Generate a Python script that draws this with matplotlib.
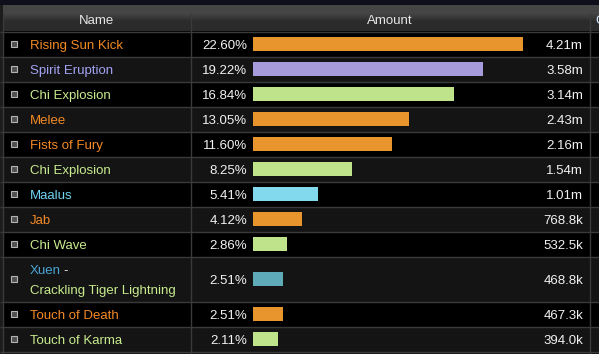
import numpy as np
import matplotlib.pyplot as plt
from matplotlib.patches import Rectangle

plt.rcParams['font.family'] = ['Liberation Sans', 'DejaVu Sans']

# data
names = ['Rising Sun Kick', 'Spirit Eruption', 'Chi Explosion', 'Melee', 'Fists of Fury',
         'Chi Explosion', 'Maalus', 'Jab', 'Chi Wave', 'Xuen -\nCrackling Tiger Lightning',
         'Touch of Death', 'Touch of Karma']
percents = [22.60, 19.22, 16.84, 13.05, 11.60, 8.25, 5.41, 4.12, 2.86, 2.51, 2.51, 2.11]
amounts_k = [4210, 3580, 3140, 2430, 2160, 1540, 1010, 768.8, 532.5, 468.8, 467.3, 394.0]
amount_labels = ['4.21m', '3.58m', '3.14m', '2.43m', '2.16m', '1.54m', '1.01m',
                 '768.8k', '532.5k', '468.8k', '467.3k', '394.0k']
kinds = ['orange', 'purple', 'green', 'orange', 'orange', 'green', 'blue', 'orange',
         'green', 'teal', 'orange', 'green']

bar_colors = {'orange': '#e8952e', 'purple': '#a89bdb', 'green': '#bfe38a',
              'blue': '#82d8ec', 'teal': '#5faab8'}
text_colors = {'orange': '#f48a24', 'purple': '#a3a3f5', 'green': '#c8ec8e',
               'blue': '#70d2f2', 'teal': '#4aa6d6'}

# layout (pixels)
W, H = 599, 354
top = 31.5
heights = [45 if '\n' in n else 25 for n in names]
edges = top + np.concatenate([[0], np.cumsum(heights)])
centers = (edges[:-1] + edges[1:]) / 2
bar_left = 253
px_per_k = 270 / 4210
fs = 9.5

fig = plt.figure(figsize=(W / 100, H / 100), dpi=100, facecolor='#000000')
ax = fig.add_axes([0, 0, 1, 1])
ax.set_xlim(0, W)
ax.set_ylim(H, 0)
ax.axis('off')

# top strip and header
ax.axhspan(0, 5, color='#0f0f1c', lw=0)
grad = np.concatenate([np.full(8, 0.27), np.linspace(0.27, 0.17, 9), np.full(9, 0.17)])
ax.imshow(np.tile(grad[:, None], (1, 10)), cmap='gray', vmin=0, vmax=1,
          extent=[0, W, 31, 5], aspect='auto', interpolation='nearest', zorder=0)
ax.text(96, 24, 'Name', color='#e6e6e6', fontsize=fs, ha='center', va='baseline')
ax.text(390, 24, 'Amount', color='#e6e6e6', fontsize=fs, ha='center', va='baseline')
ax.text(595, 24, 'C', color='#d8e8ff', fontsize=fs, ha='left', va='baseline', clip_on=True)

# row backgrounds
for i in range(len(names)):
    ax.axhspan(edges[i], edges[i + 1], color='#000000' if i % 2 == 0 else '#141414', lw=0, zorder=0.5)
ax.axhspan(edges[-1], H, color='#141414', lw=0, zorder=0.5)
ax.axvspan(0, 2.5, ymin=0, ymax=1 - 5 / H, color='#1c1c1c', lw=0, zorder=0.6)

# grid lines
ax.hlines(edges, 0, W, color='#3a3a3a', lw=1.0, zorder=1)
for x in [2.5, 190.5, 589.5]:
    ax.vlines(x, 13, H, color='#3a3a3a', lw=1.0, zorder=1)

# bars
widths = np.array(amounts_k) * px_per_k
ax.barh(centers, widths, left=bar_left, height=14,
        color=[bar_colors[k] for k in kinds], zorder=2)

for i, name in enumerate(names):
    y = centers[i]
    ax.add_patch(Rectangle((11, y - 3), 6, 6, facecolor='#505050', edgecolor='#b4b4b4',
                           lw=0.8, zorder=3))
    if '\n' in name:
        first, second = name.split('\n')
        ax.text(30, y - 5, first.rstrip(' -'), color=text_colors['teal'], fontsize=fs,
                va='baseline', zorder=3)
        ax.text(63, y - 5, '-', color='#e6e6e6', fontsize=fs, va='baseline', zorder=3)
        ax.text(30, y + 15, second, color=text_colors['green'], fontsize=fs,
                va='baseline', zorder=3)
    else:
        ax.text(30, y + 5, name, color=text_colors[kinds[i]], fontsize=fs,
                va='baseline', zorder=3)
    ax.text(247, y + 5, f'{percents[i]:.2f}%', color='#f2f2f2', fontsize=fs,
            ha='right', va='baseline', zorder=3)
    ax.text(583, y + 5, amount_labels[i], color='#f2f2f2', fontsize=fs,
            ha='right', va='baseline', zorder=3)

fig.savefig('out.png', dpi=100, facecolor=fig.get_facecolor())
